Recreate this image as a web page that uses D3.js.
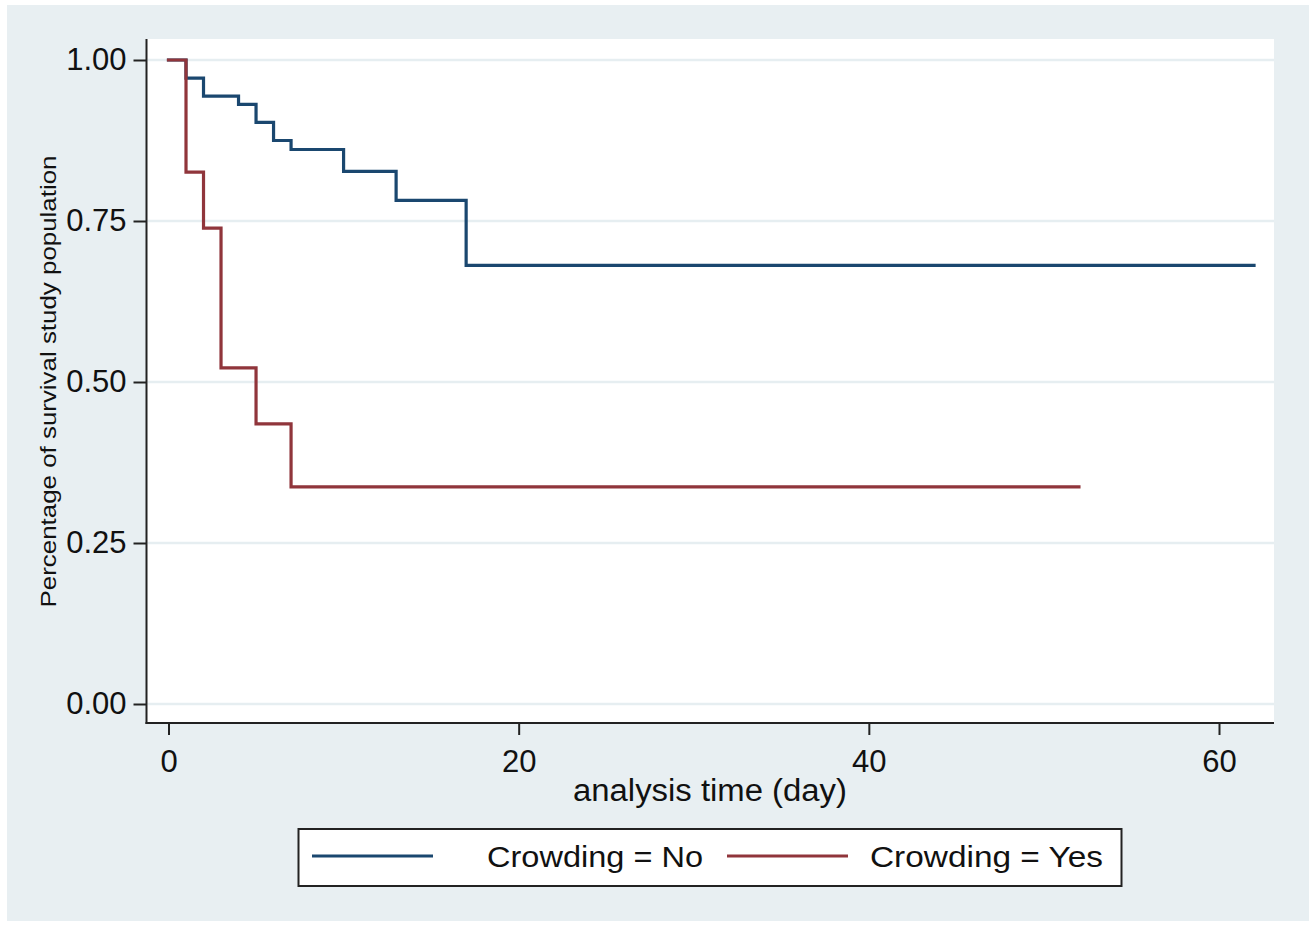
<!DOCTYPE html>
<html>
<head>
<meta charset="utf-8">
<script src="https://cdn.jsdelivr.net/npm/d3@7"></script>
<style>
  html, body { margin: 0; padding: 0; background: #ffffff; }
  svg { display: block; font-family: "Liberation Sans", Arial, sans-serif; }
</style>
</head>
<body>
<svg id="chart" width="1316" height="926"></svg>
<script>
// ---- data ----
const timesNo  = [0, 1, 2, 4, 5, 6, 7, 10, 13, 17, 62];
const survNo   = [1, 0.972, 0.944, 0.931, 0.903, 0.875, 0.861, 0.827, 0.782, 0.681, 0.681];
const timesYes = [0, 1, 2, 3, 5, 7, 52];
const survYes  = [1, 0.826, 0.739, 0.522, 0.435, 0.337, 0.337];
const xTicks = [0, 20, 40, 60];
const yTicks = [0, 0.25, 0.5, 0.75, 1];
const seriesNames = ["Crowding = No", "Crowding = Yes"];
const xTitle = "analysis time (day)";
const yTitle = "Percentage of survival study population";

// ---- layout ----
const colors = ["#1a476f", "#90353b"];
const bg = "#e8eff2";
const plot = { left: 146.5, right: 1274, top: 39, bottom: 723 };

const svg = d3.select("#chart");

svg.append("rect").attr("x", 7).attr("y", 5).attr("width", 1302).attr("height", 916).attr("fill", bg);
svg.append("rect").attr("x", plot.left).attr("y", plot.top)
  .attr("width", plot.right - plot.left).attr("height", plot.bottom - plot.top).attr("fill", "#ffffff");

const x = d3.scaleLinear().domain([0, 60]).range([168.5, 1219]);
const y = d3.scaleLinear().domain([0, 1]).range([704, 60]);

// grid
svg.append("g").selectAll("line").data(yTicks).join("line")
  .attr("x1", plot.left + 1).attr("x2", plot.right)
  .attr("y1", d => y(d)).attr("y2", d => y(d))
  .attr("stroke", "#e6eef1").attr("stroke-width", 2.5);

// y axis
const yAxis = d3.axisLeft(y).tickValues(yTicks).tickFormat(d3.format(".2f")).tickSize(13).tickPadding(7);
const gy = svg.append("g").attr("transform", `translate(${plot.left},0)`).call(yAxis);
gy.select(".domain").remove();
gy.selectAll(".tick line").attr("stroke", "#222").attr("stroke-width", 2);
gy.selectAll(".tick text").attr("font-size", 31).attr("fill", "#111")
  .attr("font-family", "'Liberation Sans', Arial, sans-serif");
svg.append("line").attr("x1", plot.left).attr("x2", plot.left).attr("y1", plot.top).attr("y2", plot.bottom + 1)
  .attr("stroke", "#222").attr("stroke-width", 2);

// x axis
const xAxis = d3.axisBottom(x).tickValues(xTicks).tickFormat(d3.format("d")).tickSize(12).tickPadding(15);
const gx = svg.append("g").attr("transform", `translate(0,${plot.bottom})`).call(xAxis);
gx.select(".domain").remove();
gx.selectAll(".tick line").attr("stroke", "#222").attr("stroke-width", 2);
gx.selectAll(".tick text").attr("font-size", 31).attr("fill", "#111")
  .attr("font-family", "'Liberation Sans', Arial, sans-serif");
svg.append("line").attr("x1", plot.left - 1).attr("x2", plot.right).attr("y1", plot.bottom).attr("y2", plot.bottom)
  .attr("stroke", "#222").attr("stroke-width", 2);

// titles
svg.append("text").attr("x", 710).attr("y", 801).attr("text-anchor", "middle")
  .attr("font-size", 31).attr("fill", "#111")
  .attr("textLength", 274).attr("lengthAdjust", "spacingAndGlyphs").text(xTitle);
svg.append("text").attr("transform", "translate(56,381.5) rotate(-90)").attr("text-anchor", "middle")
  .attr("font-size", 22).attr("fill", "#111")
  .attr("textLength", 452).attr("lengthAdjust", "spacingAndGlyphs").text(yTitle);

// curves
const line = d3.line().x(d => x(d[0])).y(d => y(d[1])).curve(d3.curveStepAfter);
const series = [d3.zip(timesNo, survNo), d3.zip(timesYes, survYes)];
svg.append("g").selectAll("path").data(series).join("path")
  .attr("d", line).attr("fill", "none")
  .attr("stroke", (d, i) => colors[i]).attr("stroke-width", 3.2)
  .attr("stroke-linejoin", "miter").attr("stroke-linecap", "square");

// legend
const lg = svg.append("g");
lg.append("rect").attr("x", 298.5).attr("y", 829).attr("width", 823).attr("height", 57)
  .attr("fill", "#ffffff").attr("stroke", "#222").attr("stroke-width", 2);
const legendItems = [
  { x1: 312, x2: 433, tx: 487, tw: 216 },
  { x1: 727, x2: 848, tx: 870, tw: 233 }
];
legendItems.forEach((it, i) => {
  lg.append("line").attr("x1", it.x1).attr("x2", it.x2).attr("y1", 856).attr("y2", 856)
    .attr("stroke", colors[i]).attr("stroke-width", 3.2);
  lg.append("text").attr("x", it.tx).attr("y", 867).attr("font-size", 29).attr("fill", "#111")
    .attr("textLength", it.tw).attr("lengthAdjust", "spacingAndGlyphs").text(seriesNames[i]);
});
</script>
</body>
</html>
